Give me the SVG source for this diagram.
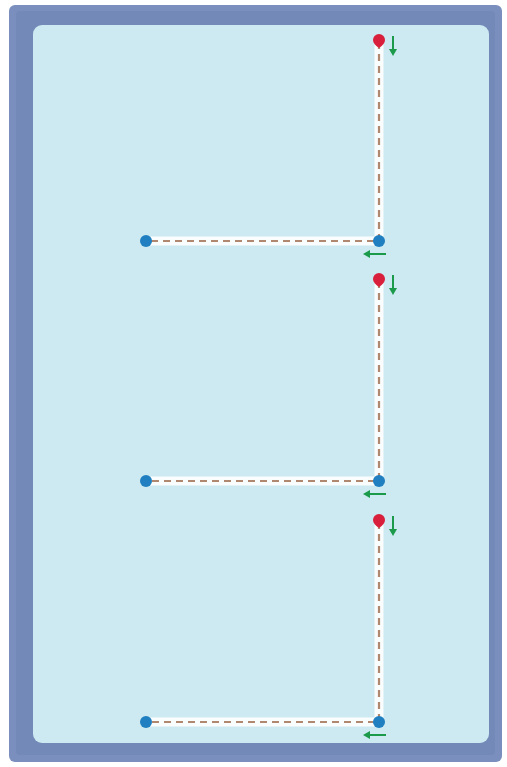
<svg xmlns="http://www.w3.org/2000/svg" width="507" height="767" viewBox="0 0 507 767">
<defs>
<style>
.glow{stroke:#ffffff;stroke-width:9;fill:none;stroke-linecap:round;opacity:0.9}
.dash{stroke:#b08870;stroke-width:2.2;stroke-dasharray:7 5;fill:none}
.blue{fill:#1f7fc0}
.red{fill:#d8203c}
.ga{stroke:#1a9a4a;stroke-width:2;fill:none}
.gah{fill:#1a9a4a}
</style>
</defs>
<rect x="0" y="0" width="507" height="767" fill="#ffffff"/>
<rect id="frame" x="9" y="5" width="493" height="757" rx="6" fill="#7a8fbd"/>
<rect x="16" y="11" width="479" height="744" rx="4" fill="#6a7fae" opacity="0.4"/>
<rect id="field" x="33" y="25" width="456" height="718" rx="9" fill="#cde9f1"/>
<g id="connectors">
<path class="glow" d="M379 42 V241 H146"/>
<path class="dash" d="M379 42 V241 H146"/>
<path class="glow" d="M379 281 V481 H146"/>
<path class="dash" d="M379 281 V481 H146"/>
<path class="glow" d="M379 522 V722 H146"/>
<path class="dash" d="M379 522 V722 H146"/>
</g>
<g id="arrows">
<line class="ga" x1="393" y1="36" x2="393" y2="50"/><path class="gah" d="M389 49 L397 49 L393 56 Z"/>
<line class="ga" x1="386" y1="254" x2="369" y2="254"/><path class="gah" d="M370 250 L370 258 L363 254 Z"/>
<line class="ga" x1="393" y1="275" x2="393" y2="289"/><path class="gah" d="M389 288 L397 288 L393 295 Z"/>
<line class="ga" x1="386" y1="494" x2="369" y2="494"/><path class="gah" d="M370 490 L370 498 L363 494 Z"/>
<line class="ga" x1="393" y1="516" x2="393" y2="530"/><path class="gah" d="M389 529 L397 529 L393 536 Z"/>
<line class="ga" x1="386" y1="735" x2="369" y2="735"/><path class="gah" d="M370 731 L370 739 L363 735 Z"/>
</g>
<g id="start1"><path class="red" d="M373 40 a6 6 0 0 1 12 0 q0 4 -6 8 q-6 -4 -6 -8 Z"/></g>
<g id="corner1"><circle class="blue" cx="379" cy="241" r="6"/></g>
<g id="end1"><circle class="blue" cx="146" cy="241" r="6"/></g>
<g id="start2"><path class="red" d="M373 279 a6 6 0 0 1 12 0 q0 4 -6 8 q-6 -4 -6 -8 Z"/></g>
<g id="corner2"><circle class="blue" cx="379" cy="481" r="6"/></g>
<g id="end2"><circle class="blue" cx="146" cy="481" r="6"/></g>
<g id="start3"><path class="red" d="M373 520 a6 6 0 0 1 12 0 q0 4 -6 8 q-6 -4 -6 -8 Z"/></g>
<g id="corner3"><circle class="blue" cx="379" cy="722" r="6"/></g>
<g id="end3"><circle class="blue" cx="146" cy="722" r="6"/></g>
</svg>
